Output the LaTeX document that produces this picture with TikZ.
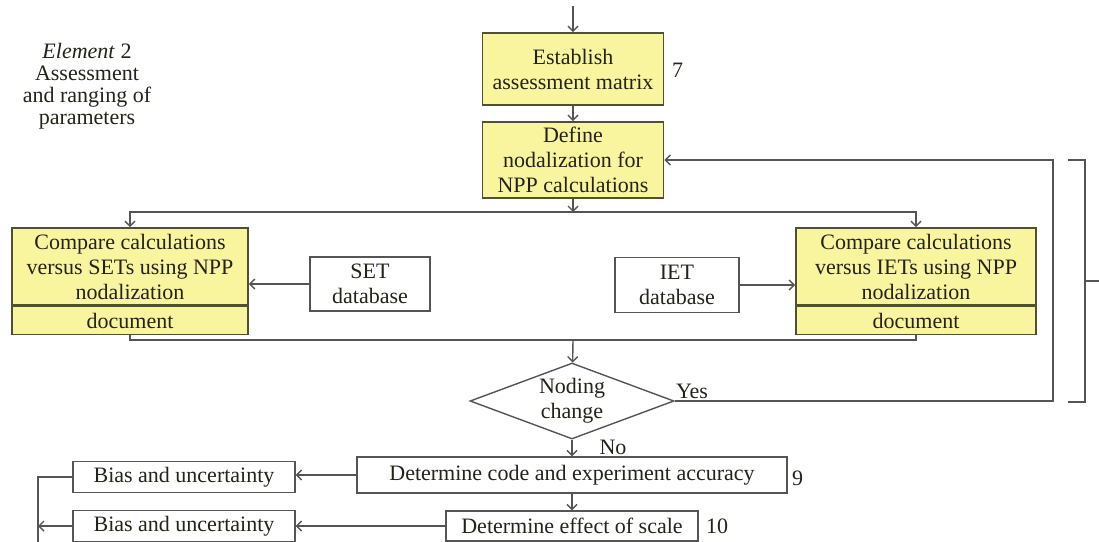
\documentclass[tikz,border=0pt]{standalone}
\usepackage{fontspec}
\setmainfont{Liberation Serif}
\usetikzlibrary{shapes.geometric,arrows.meta}

\definecolor{boxfill}{RGB}{249,245,158}
\definecolor{boxline}{RGB}{80,80,50}
\definecolor{wire}{RGB}{85,85,85}
\definecolor{ink}{RGB}{35,35,25}

\tikzset{
  yelbox/.style={draw=boxline, fill=boxfill, line width=1.6pt,
    align=center, inner sep=0pt, text=ink},
  plainbox/.style={draw=wire, fill=white, line width=1.4pt,
    align=center, inner sep=0pt, text=ink},
  link/.style={draw=wire, line width=1.4pt},
  tag/.style={text=ink, inner sep=0pt}
}

\begin{document}
\begin{tikzpicture}[x=1pt, y=-1pt, >={Straight Barb[length=5pt,width=10pt]},
  font=\fontsize{22}{25}\selectfont]
  \useasboundingbox (0,0) rectangle (1099,541);

  \node[tag, align=center, font=\fontsize{22}{22}\selectfont] (elemtwo) at (87,86)
  {\textit{Element} 2\\Assessment\\and ranging of\\parameters};

  \node[yelbox, minimum width=181pt, minimum height=72pt] (establish) at (573,69)
  {Establish\\assessment matrix};
  \node[tag, anchor=west] (num7) at (672,70) {7};
  \node[yelbox, minimum width=181pt, minimum height=76pt] (define) at (573,160)
  {Define\\nodalization for\\NPP calculations};

  \node[yelbox, minimum width=236pt, minimum height=77pt] (cmpset) at (130,266.5)
  {Compare calculations\\versus SETs using NPP\\nodalization};
  \node[yelbox, minimum width=236pt, minimum height=28pt, anchor=north] (setdoc)
  at (cmpset.south) {document};
  \node[yelbox, minimum width=240pt, minimum height=77pt] (cmpiet) at (916,266.5)
  {Compare calculations\\versus IETs using NPP\\nodalization};
  \node[yelbox, minimum width=240pt, minimum height=28pt, anchor=north] (ietdoc)
  at (cmpiet.south) {document};

  \node[plainbox, minimum width=120pt, minimum height=54pt] (setdb) at (370,284)
  {SET\\database};
  \node[plainbox, minimum width=124pt, minimum height=55pt] (ietdb) at (677,285)
  {IET\\database};

  \node[diamond, draw=wire, fill=white, line width=1.4pt, inner sep=0pt,
  aspect=2.7, minimum width=204pt, minimum height=76pt, align=center, text=ink]
  (noding) at (572,401) {Noding\\change};
  \node[tag] (yes) at (692,391) {Yes};
  \node[tag] (no) at (613,447) {No};

  \node[plainbox, minimum width=430pt, minimum height=36pt] (codeacc) at (572,475)
  {Determine code and experiment accuracy};
  \node[tag, anchor=west] (num9) at (792,478) {9};
  \node[plainbox, minimum width=252pt, minimum height=30pt] (effect) at (572,526)
  {Determine effect of scale};
  \node[tag, anchor=west] (num10) at (706,526) {10};

  \node[plainbox, minimum width=222pt, minimum height=31pt] (bias1) at (184,477)
  {Bias and uncertainty};
  \node[plainbox, minimum width=222pt, minimum height=31pt] (bias2) at (184,526)
  {Bias and uncertainty};

  \coordinate (entry) at (573,6);
  \coordinate (fork) at (573,212);
  \coordinate (merge) at (573,340);
  \coordinate (loopR) at (1053,401);
  \coordinate (railT) at (38,477);
  \coordinate (railB) at (38,548);
  \coordinate (exit) at (572,548);

  \draw[link,->] (entry) -- (establish);
  \draw[link,->] (establish) -- (define);
  \draw[link,->] (define) -- (fork);
  \draw[link,->] (fork) -| (cmpset);
  \draw[link,->] (fork) -| (cmpiet);
  \draw[link,->] (setdb.west) -- (setdb.west -| cmpset.east);
  \draw[link,->] (ietdb.east) -- (ietdb.east -| cmpiet.west);
  \draw[link] (setdoc) |- (merge);
  \draw[link] (ietdoc) |- (merge);
  \draw[link,->] (merge) -- (noding);
  \draw[link,->] (noding.east) -- (loopR) |- (define.east);
  \draw[link,->] (noding) -- (codeacc);
  \draw[link,->] (codeacc.west) -- (codeacc.west -| bias1.east);
  \draw[link,->] (codeacc) -- (effect);
  \draw[link,->] (effect) -- (bias2);
  \draw[link] (effect) -- (exit);
  \draw[link] (bias1) -- (railT) -- (railB);
  \draw[link,->] (bias2) -- (bias2 -| railT);

  \draw[link] (1068,160) -| (1085,402) -- (1068,402);
  \draw[link] (1085,281) -- (1099,281);
\end{tikzpicture}
\end{document}
